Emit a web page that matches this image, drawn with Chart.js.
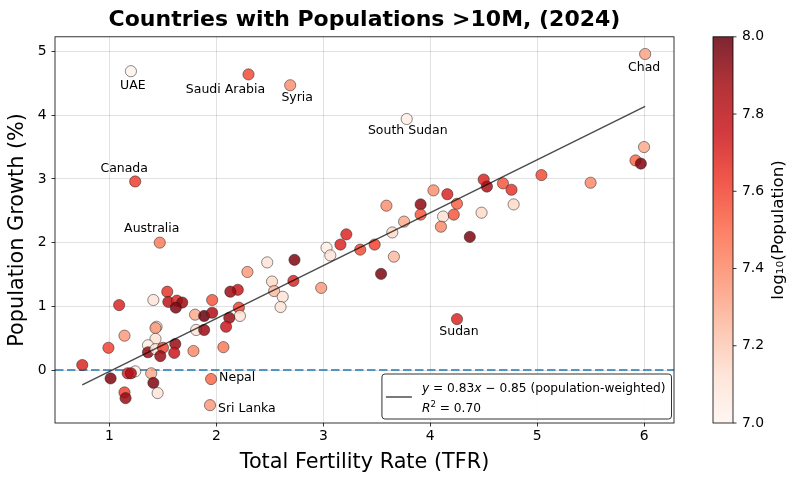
<!DOCTYPE html>
<html>
<head>
<meta charset="utf-8">
<title>Countries with Populations >10M, (2024)</title>
<script src="https://cdn.jsdelivr.net/npm/chart.js@4.4.1/dist/chart.umd.min.js"></script>
<style>
    html, body { margin: 0; padding: 0; background: #fff; }
    #wrap { width: 797px; height: 481px; }
</style>
</head>
<body>
<div id="wrap"><canvas id="fertilityChart" width="797" height="481"></canvas></div>
<script>
// labelled countries first, unnamed ones after
var countryNames = ['UAE', 'Saudi Arabia', 'Syria', 'Chad', 'South Sudan', 'Canada', 'Australia', 'Sudan', 'Nepal', 'Sri Lanka'];

var tfr = [
    1.20, 2.30, 2.69, 6.01, 3.78, 1.24, 1.47, 4.25, 1.95, 1.94,
    5.04, 5.50, 6.00, 5.92, 5.97,
    3.59, 3.91, 3.91, 3.755, 3.645, 3.48, 3.345, 3.66, 3.54, 4.03, 4.16, 4.25, 4.12, 4.22, 4.10, 4.48, 4.37, 4.50, 4.53, 4.68, 4.76, 4.78,
    2.29, 2.475, 2.73, 2.52, 2.54, 2.62, 2.60, 2.72, 2.98, 3.03, 3.065, 3.16, 3.215, 2.20, 2.13, 2.21, 2.22, 1.96, 1.80, 1.885, 1.96, 1.81, 1.885, 2.12, 2.09, 1.785, 2.065,
    0.745, 1.09, 0.99, 1.14, 1.01, 1.24, 1.17, 1.20, 1.14, 1.15, 1.39, 1.41, 1.45, 1.41, 1.54, 1.55, 1.63, 1.68, 1.62, 1.44, 1.43, 1.43, 1.36, 1.36, 1.43, 1.50, 1.475, 1.615, 1.605
];

var growth = [
    4.69, 4.64, 4.47, 4.96, 3.94, 2.96, 2.00, 0.80, -0.14, -0.55,
    3.06, 2.94, 3.50, 3.29, 3.24,
    2.58, 2.60, 2.44, 2.33, 2.16, 1.97, 1.89, 1.78, 1.51, 2.82, 2.76, 2.61, 2.41, 2.44, 2.25, 2.47, 2.09, 2.99, 2.88, 2.93, 2.83, 2.60,
    1.54, 1.69, 1.73, 1.39, 1.24, 1.15, 0.99, 1.40, 1.29, 1.92, 1.80, 1.97, 2.13, 1.26, 1.23, 0.98, 0.85, 1.10, 0.87, 0.85, 0.90, 0.63, 0.63, 0.82, 0.68, 0.30, 0.36,
    0.08, 1.02, 0.35, 0.54, -0.13, -0.02, -0.05, -0.05, -0.35, -0.44, -0.05, -0.20, -0.36, 1.10, 1.23, 1.07, 1.09, 1.06, 0.98, 0.68, 0.66, 0.49, 0.39, 0.28, 0.33, 0.35, 0.22, 0.41, 0.27
];

var logPop = [
    7.02, 7.58, 7.38, 7.32, 7.05, 7.62, 7.44, 7.70, 7.50, 7.35,
    7.58, 7.40, 7.30, 7.50, 7.95,
    7.38, 7.92, 7.55, 7.30, 7.15, 7.60, 7.58, 7.25, 7.95, 7.38, 7.70, 7.52, 7.12, 7.55, 7.40, 7.15, 7.95, 7.70, 7.85, 7.55, 7.65, 7.15,
    7.35, 7.10, 7.95, 7.15, 7.25, 7.10, 7.10, 7.70, 7.35, 7.05, 7.10, 7.70, 7.70, 7.75, 7.90, 7.60, 7.10, 7.55, 7.30, 8.00, 7.85, 7.10, 7.90, 7.90, 7.75, 7.40, 7.45,
    7.70, 7.70, 7.60, 7.35, 7.95, 7.05, 7.70, 7.85, 7.60, 7.90, 7.30, 7.95, 7.10, 7.10, 7.65, 7.80, 7.70, 7.90, 7.95, 7.10, 7.35, 7.10, 7.05, 7.90, 7.10, 7.60, 7.90, 7.90, 7.75
];

var xTicks = [1, 2, 3, 4, 5, 6];
var yTicks = [0, 1, 2, 3, 4, 5];
var cbTicks = [7.0, 7.2, 7.4, 7.6, 7.8, 8.0];

var fitSlope = 0.83;
var fitIntercept = -0.85;
var rSquared = 0.70;

// label offsets in pixels from each labelled point (centre of text)
var labelOffsets = [
    [2, 15, 'center'], [-23, 15, 'center'], [7, 13, 'center'], [-1, 14, 'center'], [1, 12, 'center'],
    [-11, -13, 'center'], [-8, -14, 'center'], [2, 13, 'center'], [8, -1, 'left'], [8, 4, 'left']
];

var cbMin = 7, cbMax = 8;
var redsStops = [
    [255, 245, 240], [254, 224, 210], [252, 187, 161], [252, 146, 114], [251, 106, 74],
    [239, 59, 44], [203, 24, 29], [165, 15, 21], [103, 0, 13]
];

function redsColor(t, alpha) {
    t = Math.min(1, Math.max(0, t)) * (redsStops.length - 1);
    var i = Math.min(Math.floor(t), redsStops.length - 2);
    var f = t - i;
    var a = redsStops[i], b = redsStops[i + 1];
    return 'rgba(' + Math.round(a[0] + (b[0] - a[0]) * f) + ',' +
        Math.round(a[1] + (b[1] - a[1]) * f) + ',' +
        Math.round(a[2] + (b[2] - a[2]) * f) + ',' + alpha + ')';
}

function popColor(v) {
    return redsColor((v - cbMin) / (cbMax - cbMin), 0.85);
}

var points = tfr.map(function (x, i) { return { x: x, y: growth[i] }; });
var fitX0 = Math.min.apply(null, tfr), fitX1 = Math.max.apply(null, tfr);
var fitLine = [
    { x: fitX0, y: fitSlope * fitX0 + fitIntercept },
    { x: fitX1, y: fitSlope * fitX1 + fitIntercept }
];

var FONT = "'DejaVu Sans', sans-serif";
Chart.defaults.font.family = FONT;
Chart.defaults.color = '#000';

var gridColor = 'rgba(0,0,0,0.15)';

// vertical scales add their tick padding above/below the plot, drop it
function noVerticalPadding(s) {
    s.paddingTop = 0;
    s.paddingBottom = 0;
}

function drawMathRuns(ctx, runs, x, y) {
    runs.forEach(function (r) {
        ctx.font = (r.it ? 'italic ' : '') + (r.size || 12.2) + 'px ' + FONT;
        ctx.fillText(r.t, x, y + (r.dy || 0));
        x += ctx.measureText(r.t).width;
    });
    return x;
}

var extrasPlugin = {
    id: 'extras',
    beforeDatasetsDraw: function (chart) {
        var ctx = chart.ctx, a = chart.chartArea;
        var y0 = chart.scales.y.getPixelForValue(0);
        ctx.save();
        ctx.beginPath();
        ctx.rect(a.left, a.top, a.right - a.left, a.bottom - a.top);
        ctx.clip();
        ctx.strokeStyle = '#1f77b4';
        ctx.lineWidth = 1.5;
        ctx.setLineDash([8.5, 3.5]);
        ctx.beginPath();
        ctx.moveTo(a.left, y0);
        ctx.lineTo(a.right, y0);
        ctx.stroke();
        ctx.restore();
    },
    afterDatasetsDraw: function (chart) {
        var ctx = chart.ctx, a = chart.chartArea;
        var xs = chart.scales.x, ys = chart.scales.y;
        ctx.save();

        // annotations
        ctx.fillStyle = '#000';
        ctx.font = '12.5px ' + FONT;
        ctx.textBaseline = 'middle';
        countryNames.forEach(function (name, i) {
            var off = labelOffsets[i];
            ctx.textAlign = off[2];
            ctx.fillText(name, xs.getPixelForValue(tfr[i]) + off[0], ys.getPixelForValue(growth[i]) + off[1]);
        });

        // legend
        var line1 = [
            { t: 'y', it: true }, { t: ' = ' + fitSlope.toFixed(2) },
            { t: 'x', it: true },
            { t: ' \u2212 ' + Math.abs(fitIntercept).toFixed(2) + ' (population-weighted)' }
        ];
        var line2 = [
            { t: 'R', it: true }, { t: '2', size: 8.6, dy: -5 }, { t: ' = ' + rSquared.toFixed(2) }
        ];
        ctx.textAlign = 'left';
        ctx.textBaseline = 'alphabetic';
        var w = 0;
        line1.forEach(function (r) {
            ctx.font = (r.it ? 'italic ' : '') + '12.2px ' + FONT;
            w += ctx.measureText(r.t).width;
        });
        var bw = 40 + w + 6, bh = 45;
        var bx = a.right - 2.5 - bw, by = a.bottom - 4 - bh;
        ctx.beginPath();
        ctx.roundRect(bx, by, bw, bh, 3);
        ctx.fillStyle = 'rgba(255,255,255,0.9)';
        ctx.fill();
        ctx.strokeStyle = '#333';
        ctx.lineWidth = 1;
        ctx.stroke();
        ctx.strokeStyle = 'rgba(0,0,0,0.7)';
        ctx.lineWidth = 1.5;
        ctx.beginPath();
        ctx.moveTo(bx + 4, by + 23);
        ctx.lineTo(bx + 30, by + 23);
        ctx.stroke();
        ctx.fillStyle = '#000';
        drawMathRuns(ctx, line1, bx + 40, by + 17.5);
        drawMathRuns(ctx, line2, bx + 40, by + 37.5);

        // frame
        ctx.strokeStyle = '#000';
        ctx.lineWidth = 0.8;
        ctx.strokeRect(a.left, a.top, a.right - a.left, a.bottom - a.top);
        ctx.restore();
    },
    afterDraw: function (chart) {
        var ctx = chart.ctx, a = chart.chartArea;
        var cb = chart.scales.cb;
        var left = a.right + 39, width = 20;
        var top = cb.getPixelForValue(cbMax), bottom = cb.getPixelForValue(cbMin);
        ctx.save();
        var grad = ctx.createLinearGradient(0, bottom, 0, top);
        redsStops.forEach(function (s, i) {
            var t = i / (redsStops.length - 1);
            grad.addColorStop(t, redsColor(t, 0.85));
        });
        ctx.fillStyle = grad;
        ctx.fillRect(left, top, width, bottom - top);
        ctx.strokeStyle = '#000';
        ctx.lineWidth = 0.8;
        ctx.strokeRect(left, top, width, bottom - top);
        cbTicks.forEach(function (v) {
            var py = cb.getPixelForValue(v);
            ctx.beginPath();
            ctx.moveTo(left + width, py);
            ctx.lineTo(left + width + 3.5, py);
            ctx.stroke();
        });
        ctx.translate(a.right + 105, (a.top + a.bottom) / 2);
        ctx.rotate(-Math.PI / 2);
        ctx.fillStyle = '#000';
        ctx.font = '16.7px ' + FONT;
        ctx.textAlign = 'center';
        ctx.textBaseline = 'middle';
        ctx.fillText('log\u2081\u2080(Population)', 0, 0);
        ctx.restore();
    }
};

var ctx = document.getElementById('fertilityChart');
new Chart(ctx, {
    type: 'scatter',
    data: {
        datasets: [
            {
                type: 'line',
                label: 'fit',
                data: fitLine,
                borderColor: 'rgba(0,0,0,0.7)',
                borderWidth: 1.5,
                pointRadius: 0,
                fill: false
            },
            {
                label: 'countries',
                data: points,
                backgroundColor: logPop.map(popColor),
                borderColor: 'rgba(30,30,30,0.85)',
                borderWidth: 0.6,
                pointRadius: 5.6
            }
        ]
    },
    options: {
        responsive: false,
        animation: false,
        devicePixelRatio: 1,
        layout: { padding: 0 },
        plugins: {
            legend: { display: false },
            tooltip: { enabled: false },
            title: {
                display: true,
                text: 'Countries with Populations >10M, (2024)',
                fullSize: false,
                color: '#000',
                font: { size: 22, weight: 'bold', family: FONT },
                padding: { top: 7, bottom: 3.4 }
            }
        },
        scales: {
            x: {
                type: 'linear',
                min: 0.49,
                max: 6.28,
                afterBuildTicks: function (s) { s.ticks = xTicks.map(function (v) { return { value: v }; }); },
                afterFit: function (s) { s.height = 58; },
                grid: { color: gridColor, lineWidth: 0.8, tickColor: '#000', tickLength: 3.5, tickWidth: 0.8 },
                border: { display: false },
                ticks: { color: '#000', font: { size: 13.9 }, padding: 2, maxRotation: 0 },
                title: {
                    display: true, text: 'Total Fertility Rate (TFR)', color: '#000',
                    font: { size: 20.8 }, padding: { top: 0, bottom: 6 }
                }
            },
            y: {
                type: 'linear',
                min: -0.83,
                max: 5.23,
                afterBuildTicks: function (s) { s.ticks = yTicks.map(function (v) { return { value: v }; }); },
                afterFit: function (s) { s.width = 55; noVerticalPadding(s); },
                grid: { color: gridColor, lineWidth: 0.8, tickColor: '#000', tickLength: 3.5, tickWidth: 0.8 },
                border: { display: false },
                ticks: { color: '#000', font: { size: 13.9 }, padding: 5 },
                title: {
                    display: true, text: 'Population Growth (%)', color: '#000',
                    font: { size: 20.8 }, padding: { top: 5.5, bottom: 0 }
                }
            },
            cb: {
                type: 'linear',
                position: 'right',
                min: cbMin,
                max: cbMax,
                afterBuildTicks: function (s) { s.ticks = cbTicks.map(function (v) { return { value: v }; }); },
                afterFit: function (s) { s.width = 123; noVerticalPadding(s); },
                grid: { display: false, drawTicks: false, drawOnChartArea: false },
                border: { display: false },
                ticks: {
                    color: '#000', font: { size: 13.9 }, padding: 68,
                    callback: function (v) { return Number(v).toFixed(1); }
                }
            }
        }
    },
    plugins: [extrasPlugin]
});
</script>
</body>
</html>
